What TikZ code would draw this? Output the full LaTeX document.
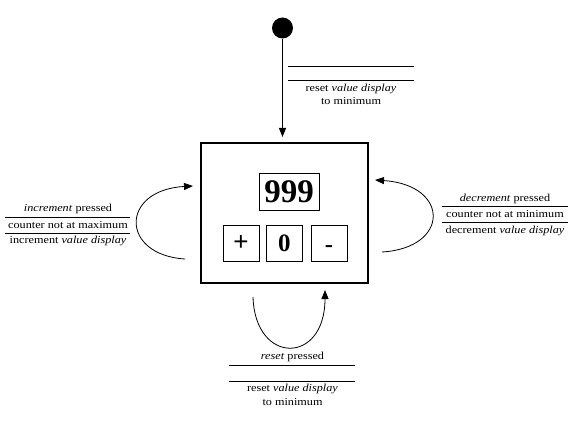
\documentclass[tikz,border=0pt]{standalone}
\usepackage{fontspec}
\setmainfont{Liberation Serif}[FakeStretch=1.14]
\newfontfamily\keyfont{Liberation Sans}
\newfontfamily\digitfont{Liberation Serif}
\usetikzlibrary{arrows.meta}

\begin{document}
\begin{tikzpicture}[x=1pt, y=-1pt,
		flow/.style={draw, line width=0.8pt, -{Triangle[length=9pt,width=7pt]}},
		guard/.style={line width=0.8pt},
		key/.style={draw, line width=0.8pt, minimum width=36pt, minimum height=36pt, inner sep=0pt},
		note/.style={inner sep=0pt, font=\fontsize{10.7}{12}\selectfont}]

		\fill[white] (0,0) rectangle (579,425);

		\node[draw, line width=2pt, minimum width=167pt, minimum height=140pt] (panel) at (284.5,213) {};
		\node[key, minimum width=60pt, minimum height=37pt, font=\digitfont\bfseries\fontsize{33}{33}\selectfont] (shown) at (289,191.5) {999};
		\node[key, font=\keyfont\fontsize{26}{26}\selectfont] (plus) at (241,243) {+};
		\node[key, font=\digitfont\bfseries\fontsize{25}{25}\selectfont] (zero) at (284.3,243) {0};
		\node[key, text height=29pt, text depth=7pt, font=\keyfont\fontsize{26}{26}\selectfont] (minus) at (329,243) {-};

		\node[circle, fill, inner sep=0pt, minimum size=21pt] (start) at (282.5,28) {};
		\draw[flow, shorten >=5pt] (start) -- (panel.north -| start);

		\coordinate (incout) at (185,259);
		\coordinate (incin) at (193,186);
		\coordinate (decout) at (382,252);
		\coordinate (decin) at (375,180);
		\coordinate (rstout) at (253,297);
		\coordinate (rstin) at (325,290);

		\draw[flow] (incout) .. controls (120,255) and (120,190) .. (incin);
		\draw[flow] (decout) .. controls (450,248) and (450,185) .. (decin);
		\draw[flow] (rstout) .. controls (255,365) and (325,365) .. (rstin);

		% initial transition
		\draw[guard] (288,66) -- (414,66);
		\draw[guard] (288,80) -- (414,80);
		\node[note] (initact) at (351,88.5) {reset \textit{value display}};
		\node[note] (initmin) at (351,101) {to minimum};

		% increment
		\node[note] (incev) at (68,209) {\textit{increment} pressed};
		\draw[guard] (5,217.3) -- (130,217.3);
		\node[note] (incgd) at (68,225) {counter not at maximum};
		\draw[guard] (5,233.3) -- (130,233.3);
		\node[note] (incact) at (68,240.5) {increment \textit{value display}};

		% decrement
		\node[note] (decev) at (505,199.3) {\textit{decrement} pressed};
		\draw[guard] (442,206.7) -- (568,206.7);
		\node[note] (decgd) at (505,214.3) {counter not at minimum};
		\draw[guard] (442,222.7) -- (568,222.7);
		\node[note] (decact) at (505,230.5) {decrement \textit{value display}};

		% reset
		\node[note] (rstev) at (292.5,356.7) {\textit{reset} pressed};
		\draw[guard] (229,365) -- (355,365);
		\draw[guard] (229,381.7) -- (355,381.7);
		\node[note] (rstact) at (292.5,388.5) {reset \textit{value display}};
		\node[note] (rstmin) at (292.5,401.7) {to minimum};

	\end{tikzpicture}
\end{document}
